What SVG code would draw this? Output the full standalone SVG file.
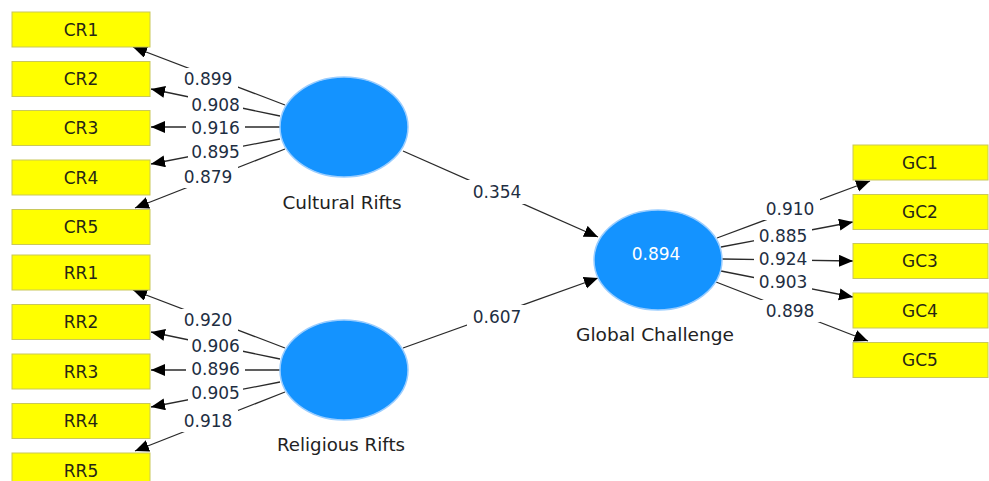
<svg xmlns="http://www.w3.org/2000/svg" width="989" height="481" viewBox="0 0 989 481">
<style>
.box{fill:#FFFF00;stroke:#C9C85A;stroke-width:1}
.lv{fill:#1493FF;stroke:#9ACDFF;stroke-width:1.5}
.bt{font-family:"DejaVu Sans",sans-serif;font-size:17px;fill:#262615;text-anchor:middle}
.nt{font-family:"DejaVu Sans",sans-serif;font-size:17px;fill:#1E2E42;text-anchor:middle}
.lt{font-family:"DejaVu Sans",sans-serif;font-size:17px;fill:#222;text-anchor:middle}
.ln{stroke:#2a2a2a;stroke-width:1.3;fill:none;marker-end:url(#ah)}
.bg{fill:#fff}
</style>
<defs>
<marker id="ah" markerUnits="userSpaceOnUse" markerWidth="16" markerHeight="14" refX="14" refY="6" orient="auto">
<path d="M0,0 L14,6 L0,12 z" fill="#000"/>
</marker>
</defs>
<rect width="989" height="481" fill="#fff"/>
<g id="connectors">
<line class="ln" x1="285" y1="105" x2="133" y2="47"/>
<line class="ln" x1="280" y1="116" x2="151" y2="89"/>
<line class="ln" x1="280" y1="127" x2="151" y2="127"/>
<line class="ln" x1="280" y1="139" x2="151" y2="164"/>
<line class="ln" x1="285" y1="149" x2="135" y2="208"/>
<line class="ln" x1="285" y1="348" x2="133" y2="290"/>
<line class="ln" x1="280" y1="359" x2="151" y2="332"/>
<line class="ln" x1="280" y1="370" x2="151" y2="370"/>
<line class="ln" x1="280" y1="382" x2="151" y2="407"/>
<line class="ln" x1="285" y1="392" x2="135" y2="451"/>
<line class="ln" x1="403" y1="151" x2="598" y2="237"/>
<line class="ln" x1="403" y1="348" x2="598" y2="278"/>
<line class="ln" x1="717" y1="238" x2="870" y2="181"/>
<line class="ln" x1="721" y1="247" x2="853" y2="222"/>
<line class="ln" x1="722" y1="259" x2="853" y2="261"/>
<line class="ln" x1="721" y1="271" x2="853" y2="297"/>
<line class="ln" x1="716" y1="282" x2="868" y2="341"/>
<g id="edge-labels">
<rect class="bg" x="179" y="68" width="59" height="22"/><text class="nt" x="208" y="85">0.899</text>
<rect class="bg" x="188" y="95" width="55" height="20"/><text class="nt" x="215.5" y="111">0.908</text>
<rect class="bg" x="186" y="118" width="59" height="19"/><text class="nt" x="215.5" y="133.5">0.916</text>
<rect class="bg" x="188" y="141" width="55" height="21"/><text class="nt" x="215.5" y="157.5">0.895</text>
<rect class="bg" x="179" y="166" width="59" height="22"/><text class="nt" x="208" y="182.5">0.879</text>
<rect class="bg" x="179" y="309" width="59" height="22"/><text class="nt" x="208" y="326">0.920</text>
<rect class="bg" x="188" y="336" width="55" height="20"/><text class="nt" x="215.5" y="352">0.906</text>
<rect class="bg" x="186" y="360" width="59" height="19"/><text class="nt" x="215.5" y="375">0.896</text>
<rect class="bg" x="188" y="382" width="55" height="21"/><text class="nt" x="215.5" y="398.5">0.905</text>
<rect class="bg" x="179" y="410" width="59" height="22"/><text class="nt" x="208" y="427">0.918</text>
<rect class="bg" x="467" y="180" width="60" height="24"/><text class="nt" x="497" y="197.5">0.354</text>
<rect class="bg" x="467" y="305" width="60" height="24"/><text class="nt" x="497" y="323">0.607</text>
<rect class="bg" x="760" y="198" width="60" height="22"/><text class="nt" x="790" y="215">0.910</text>
<rect class="bg" x="754" y="226" width="58" height="20"/><text class="nt" x="783" y="242">0.885</text>
<rect class="bg" x="754" y="249" width="58" height="20"/><text class="nt" x="783" y="265">0.924</text>
<rect class="bg" x="754" y="271" width="58" height="21"/><text class="nt" x="783" y="287.5">0.903</text>
<rect class="bg" x="760" y="300" width="60" height="22"/><text class="nt" x="790" y="317">0.898</text>
</g>
</g>
<g id="CR1"><rect class="box" x="12" y="12" width="138" height="35"/><text class="bt" x="81" y="35.5">CR1</text></g>
<g id="CR2"><rect class="box" x="12" y="61.5" width="138" height="35"/><text class="bt" x="81" y="85">CR2</text></g>
<g id="CR3"><rect class="box" x="12" y="110.5" width="138" height="35"/><text class="bt" x="81" y="134">CR3</text></g>
<g id="CR4"><rect class="box" x="12" y="160" width="138" height="35"/><text class="bt" x="81" y="183.5">CR4</text></g>
<g id="CR5"><rect class="box" x="12" y="209.5" width="138" height="35"/><text class="bt" x="81" y="233">CR5</text></g>
<g id="RR1"><rect class="box" x="12" y="255" width="138" height="35"/><text class="bt" x="81" y="278.5">RR1</text></g>
<g id="RR2"><rect class="box" x="12" y="304.5" width="138" height="35"/><text class="bt" x="81" y="328">RR2</text></g>
<g id="RR3"><rect class="box" x="12" y="354" width="138" height="35"/><text class="bt" x="81" y="377.5">RR3</text></g>
<g id="RR4"><rect class="box" x="12" y="403.5" width="138" height="35"/><text class="bt" x="81" y="427">RR4</text></g>
<g id="RR5"><rect class="box" x="12" y="453" width="138" height="35"/><text class="bt" x="81" y="476.5">RR5</text></g>
<g id="GC1"><rect class="box" x="853" y="145" width="135" height="35"/><text class="bt" x="920" y="168.5">GC1</text></g>
<g id="GC2"><rect class="box" x="853" y="194.5" width="135" height="35"/><text class="bt" x="920" y="218">GC2</text></g>
<g id="GC3"><rect class="box" x="853" y="243.5" width="135" height="35"/><text class="bt" x="920" y="267">GC3</text></g>
<g id="GC4"><rect class="box" x="853" y="293" width="135" height="35"/><text class="bt" x="920" y="316.5">GC4</text></g>
<g id="GC5"><rect class="box" x="853" y="342.5" width="135" height="35"/><text class="bt" x="920" y="366">GC5</text></g>
<g id="CulturalRifts"><ellipse class="lv" cx="344" cy="127" rx="64" ry="50"/><text class="lt" x="342" y="209" textLength="119" lengthAdjust="spacingAndGlyphs">Cultural Rifts</text></g>
<g id="ReligiousRifts"><ellipse class="lv" cx="344" cy="370" rx="64" ry="50"/><text class="lt" x="341" y="451" textLength="128" lengthAdjust="spacingAndGlyphs">Religious Rifts</text></g>
<g id="GlobalChallenge"><ellipse class="lv" cx="658" cy="260" rx="64" ry="50"/><text class="nt" x="656" y="260" style="fill:#fff">0.894</text><text class="lt" x="655" y="341" textLength="158" lengthAdjust="spacingAndGlyphs">Global Challenge</text></g>
</svg>
